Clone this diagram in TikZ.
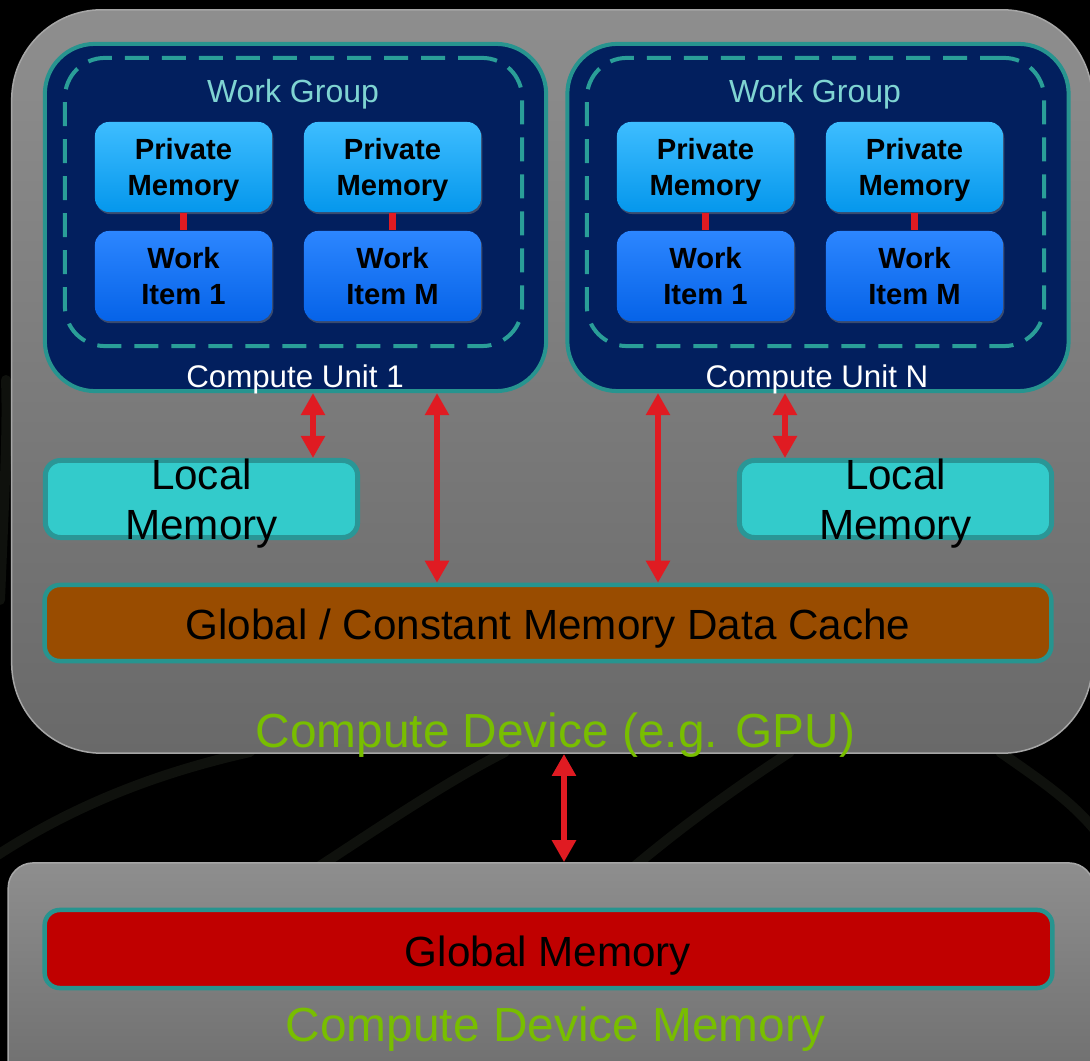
\documentclass[tikz,border=0pt]{standalone}
\usepackage{fontspec}
\setmainfont{Liberation Sans}
\usetikzlibrary{arrows.meta,shadows,calc}

\definecolor{cuNavy}{HTML}{021F5E}
\definecolor{edgeTeal}{HTML}{27948F}
\definecolor{dashTeal}{HTML}{2A9E98}
\definecolor{wgText}{HTML}{7FD4D2}
\definecolor{pmTop}{HTML}{3EBDFF}
\definecolor{pmBot}{HTML}{0597EC}
\definecolor{wiTop}{HTML}{2C86FF}
\definecolor{wiBot}{HTML}{0663E8}
\definecolor{lmFill}{HTML}{33CBCB}
\definecolor{lmEdge}{HTML}{2A9696}
\definecolor{cacheFill}{HTML}{994C00}
\definecolor{gmFill}{HTML}{C00000}
\definecolor{linkRed}{HTML}{E01B22}
\definecolor{devGreen}{HTML}{78BE00}
\definecolor{devTop}{HTML}{8E8E8E}
\definecolor{devBot}{HTML}{696969}
\definecolor{devEdge}{HTML}{A6A6A6}
\definecolor{streak}{HTML}{0F110D}

\begin{document}
\begin{tikzpicture}[x=0.01cm,y=-0.01cm,
  devbox/.style={rectangle,inner sep=0pt,top color=devTop,bottom color=devBot,
    draw=devEdge,line width=0.015cm},
  cubox/.style={rectangle,rounded corners=0.5cm,fill=cuNavy,draw=edgeTeal,
    line width=0.04cm,minimum width=5.01cm,minimum height=3.47cm,inner sep=0pt},
  wgbox/.style={rectangle,rounded corners=0.4cm,draw=dashTeal,line width=0.04cm,
    dash pattern=on 0.24cm off 0.13cm,minimum width=4.57cm,minimum height=2.88cm,inner sep=0pt},
  cell/.style={rectangle,rounded corners=0.14cm,align=center,inner sep=0pt,
    minimum width=1.77cm,minimum height=0.90cm,text depth=0pt,
    font=\fontsize{8.3pt}{10.3pt}\selectfont\bfseries,
    drop shadow={shadow xshift=0.012cm,shadow yshift=-0.02cm,opacity=0.45}},
  pmem/.style={cell,top color=pmTop,bottom color=pmBot},
  witem/.style={cell,top color=wiTop,bottom color=wiBot},
  tie/.style={draw=linkRed,line width=0.07cm},
  membox/.style={rectangle,rounded corners=0.15cm,line width=0.045cm,inner sep=0pt},
  link/.style={draw=linkRed,line width=0.065cm,
    {Triangle[width=0.23cm,length=0.22cm]}-{Triangle[width=0.23cm,length=0.22cm]}},
  wglabel/.style={anchor=base,text=wgText,font=\fontsize{9.1pt}{11pt}\selectfont},
  culabel/.style={anchor=base,text=white,font=\fontsize{8.9pt}{11pt}\selectfont},
  bigtext/.style={anchor=base,text=black,font=\fontsize{12pt}{14pt}\selectfont},
  devlabel/.style={anchor=base,text=devGreen,font=\fontsize{13.6pt}{16pt}\selectfont},
]
\useasboundingbox (0,0) rectangle (1090,1061);
\clip (0,0) rectangle (1090,1061);

% dark backdrop with faint streaks
\fill[black] (0,0) rectangle (1090,1061);
\begin{scope}[streak,line width=0.1cm,line cap=round]
  \draw (-10,860) .. controls (80,800) and (170,770) .. (250,752);
  \draw (0,600) .. controls (4,500) and (8,430) .. (6,380);
  \draw (320,866) .. controls (390,820) and (450,780) .. (505,752);
  \draw (635,866) .. controls (690,820) and (740,785) .. (790,752);
  \draw (1000,752) .. controls (1040,780) and (1070,800) .. (1095,830);
\end{scope}

% compute device
\node[devbox,rounded corners=0.9cm,minimum width=10.80cm,minimum height=7.43cm]
  (dev) at (552,381.5) {};

% compute units
\node[cubox] (cu1) at (295.5,217.5) {};
\node[cubox] (cuN) at (818,217.5) {};
\node[wgbox] (wg1) at (293.5,202) {};
\node[wgbox] (wgN) at (815.5,202) {};
\node[wglabel] (wgt1) at (293,103) {Work Group};
\node[wglabel] (wgtN) at (815,103) {Work Group};
\node[culabel] (cut1) at (295,388) {Compute Unit 1};
\node[culabel] (cutN) at (817,388) {Compute Unit N};

% private memories and work items
\node[pmem]  (pm11) at (183.5,167) {Private\\Memory};
\node[pmem]  (pm1M) at (392.5,167) {Private\\Memory};
\node[witem] (wi11) at (183.5,276) {Work\\Item 1};
\node[witem] (wi1M) at (392.5,276) {Work\\Item M};
\node[pmem]  (pmN1) at (705.5,167) {Private\\Memory};
\node[pmem]  (pmNM) at (914.5,167) {Private\\Memory};
\node[witem] (wiN1) at (705.5,276) {Work\\Item 1};
\node[witem] (wiNM) at (914.5,276) {Work\\Item M};
\draw[tie] (pm11.south) -- (wi11.north);
\draw[tie] (pm1M.south) -- (wi1M.north);
\draw[tie] (pmN1.south) -- (wiN1.north);
\draw[tie] (pmNM.south) -- (wiNM.north);

% local memories
\node[membox,fill=lmFill,draw=lmEdge,line width=0.05cm,minimum width=3.12cm,minimum height=0.77cm]
  (lm1) at (201.5,499) {};
\node[membox,fill=lmFill,draw=lmEdge,line width=0.05cm,minimum width=3.12cm,minimum height=0.77cm]
  (lmN) at (895.5,499) {};
\node[bigtext] (lm1a) at (201.5,490) {Local};
\node[bigtext] (lm1b) at (201.5,540) {Memory};
\node[bigtext] (lmNa) at (895.5,490) {Local};
\node[bigtext] (lmNb) at (895.5,540) {Memory};

% global / constant cache
\node[membox,fill=cacheFill,draw=edgeTeal,minimum width=10.06cm,minimum height=0.76cm]
  (cache) at (548,623) {};
\node[bigtext] (cachet) at (548,640) {Global / Constant Memory Data Cache};

\node[devlabel] (devt) at (555.5,748) {Compute Device (e.g. GPU)};

% links inside the device
\coordinate (xa) at (313,0);
\coordinate (xb) at (437,0);
\coordinate (xc) at (658,0);
\coordinate (xd) at (785,0);
\draw[link] (cu1.south -| xa) -- (lm1.north -| xa);
\draw[link] (cu1.south -| xb) -- (cache.north -| xb);
\draw[link] (cuN.south -| xc) -- (cache.north -| xc);
\draw[link] (cuN.south -| xd) -- (lmN.north -| xd);

% device memory
\node[devbox,rounded corners=0.25cm,minimum width=10.85cm,minimum height=2.6cm]
  (mem) at (551,993) {};
\node[membox,fill=gmFill,draw=edgeTeal,minimum width=10.07cm,minimum height=0.78cm]
  (gm) at (548.5,949) {};
\node[bigtext] (gmt) at (548,967) {Global Memory};
\node[devlabel] (memt) at (555.5,1042) {Compute Device Memory};

\coordinate (xe) at (564,0);
\draw[link] (dev.south -| xe) -- (mem.north -| xe);
\end{tikzpicture}
\end{document}
